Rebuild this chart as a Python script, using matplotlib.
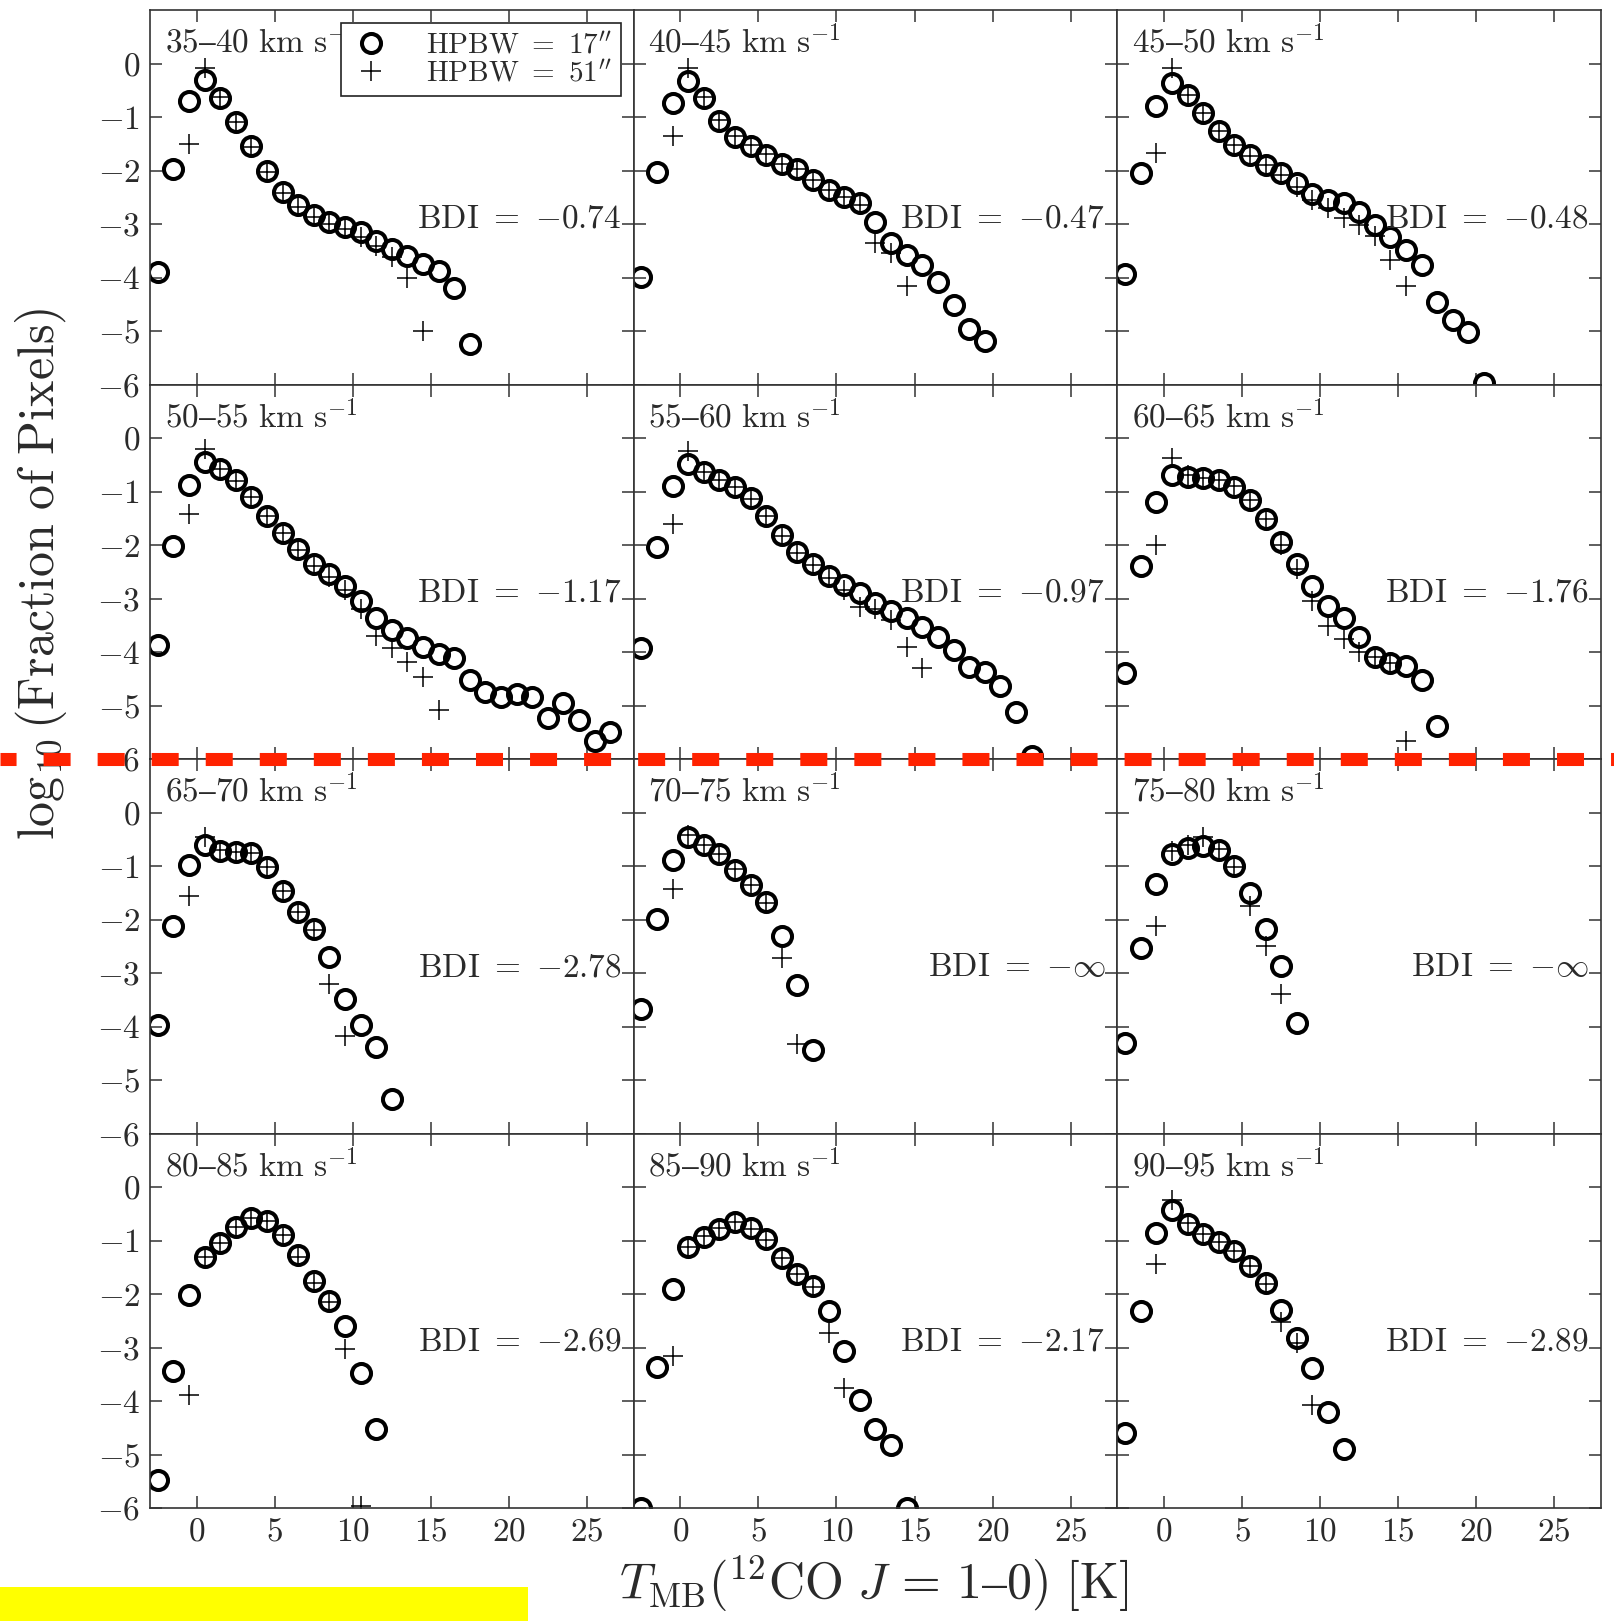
import matplotlib
matplotlib.use("Agg")
import matplotlib.pyplot as plt
import numpy as np
from matplotlib.lines import Line2D
from matplotlib.patches import Rectangle

plt.rcParams['font.family'] = ['cmr10', 'DejaVu Serif']
plt.rcParams['mathtext.fontset'] = 'cm'
plt.rcParams['axes.formatter.use_mathtext'] = True

# velocity ranges (km/s) and BDI of each panel
vel_ranges = ["35–40", "40–45", "45–50", "50–55", "55–60", "60–65",
              "65–70", "70–75", "75–80", "80–85", "85–90", "90–95"]
bdi_labels = ["-0.74", "-0.47", "-0.48", "-1.17", "-0.97", "-1.76",
              "-2.78", r"-\infty", r"-\infty", "-2.69", "-2.17", "-2.89"]

# T_MB bin centres start here, 1 K wide bins
t_first_17 = -2.5
t_first_51 = -0.5
t_bin = 1.0

# log10(fraction of pixels), HPBW = 17"
c35 = [-3.90, -1.98, -0.70, -0.30, -0.64, -1.10, -1.55, -2.00, -2.40, -2.65, -2.83,
       -2.97, -3.06, -3.15, -3.32, -3.46, -3.60, -3.74, -3.87, -4.20, -5.25]
c40 = [-3.99, -2.02, -0.73, -0.33, -0.64, -1.08, -1.38, -1.55, -1.71, -1.88, -1.97,
       -2.18, -2.36, -2.49, -2.61, -2.97, -3.36, -3.58, -3.77, -4.08, -4.51, -4.96, -5.18]
c45 = [-3.93, -2.05, -0.80, -0.36, -0.58, -0.93, -1.27, -1.52, -1.71, -1.89, -2.05,
       -2.24, -2.43, -2.55, -2.61, -2.77, -3.02, -3.24, -3.49, -3.77, -4.46, -4.80,
       -5.02, -5.97]
c50 = [-3.87, -2.01, -0.87, -0.44, -0.58, -0.79, -1.10, -1.45, -1.77, -2.08, -2.36,
       -2.55, -2.77, -3.05, -3.36, -3.58, -3.74, -3.90, -4.03, -4.12, -4.53, -4.75,
       -4.85, -4.78, -4.85, -5.23, -4.96, -5.28, -5.66, -5.50]
c55 = [-3.93, -2.04, -0.89, -0.49, -0.64, -0.79, -0.91, -1.13, -1.45, -1.82, -2.13,
       -2.36, -2.58, -2.74, -2.89, -3.08, -3.24, -3.37, -3.53, -3.72, -3.97, -4.28,
       -4.38, -4.63, -5.13, -5.94]
c60 = [-4.39, -2.39, -1.19, -0.69, -0.72, -0.75, -0.78, -0.91, -1.16, -1.51, -1.94,
       -2.36, -2.77, -3.14, -3.37, -3.72, -4.09, -4.21, -4.26, -4.52, -5.38]
c65 = [-3.98, -2.12, -0.99, -0.60, -0.72, -0.74, -0.76, -1.02, -1.47, -1.86, -2.18,
       -2.70, -3.48, -3.97, -4.38, -5.36]
c70 = [-3.68, -1.99, -0.89, -0.46, -0.60, -0.78, -1.07, -1.36, -1.68, -2.30, -3.22, -4.44]
c75 = [-4.30, -2.53, -1.33, -0.77, -0.67, -0.62, -0.70, -1.00, -1.50, -2.17, -2.87, -3.93]
c80 = [-5.48, -3.44, -2.01, -1.31, -1.04, -0.75, -0.58, -0.63, -0.89, -1.28, -1.75,
       -2.13, -2.59, -3.47, -4.52]
c85 = [-6.00, -3.37, -1.90, -1.13, -0.93, -0.78, -0.66, -0.76, -0.97, -1.33, -1.62,
       -1.85, -2.32, -3.07, -3.98, -4.52, -4.82, -6.00]
c90 = [-4.60, -2.31, -0.86, -0.43, -0.69, -0.88, -1.02, -1.19, -1.47, -1.80, -2.30,
       -2.83, -3.38, -4.20, -4.90]

# log10(fraction of pixels), HPBW = 51"
p35 = [-1.50, -0.08, -0.62, -1.10, -1.56, -2.02, -2.42, -2.68, -2.86, -3.00, -3.10,
       -3.24, -3.42, -3.62, -4.00, -5.00]
p40 = [-1.36, -0.08, -0.62, -1.06, -1.36, -1.53, -1.70, -1.87, -1.97, -2.18, -2.36,
       -2.50, -2.65, -3.36, -3.55, -4.16]
p45 = [-1.68, -0.08, -0.58, -0.93, -1.27, -1.52, -1.72, -1.90, -2.08, -2.30, -2.55,
       -2.70, -2.88, -3.02, -3.22, -3.68, -4.15]
p50 = [-1.42, -0.20, -0.58, -0.80, -1.10, -1.45, -1.78, -2.10, -2.40, -2.60, -2.85,
       -3.20, -3.71, -3.93, -4.18, -4.47, -5.08]
p55 = [-1.60, -0.25, -0.64, -0.79, -0.92, -1.14, -1.46, -1.83, -2.15, -2.38, -2.62,
       -2.85, -3.15, -3.20, -3.40, -3.90, -4.30]
p60 = [-2.00, -0.38, -0.70, -0.74, -0.78, -0.90, -1.16, -1.52, -2.00, -2.45, -3.05,
       -3.52, -3.76, -4.00, -4.10, -4.20, -5.67]
p65 = [-1.56, -0.46, -0.70, -0.74, -0.75, -1.02, -1.47, -1.86, -2.20, -3.20, -4.17]
p70 = [-1.43, -0.42, -0.60, -0.78, -1.06, -1.36, -1.70, -2.72, -4.32]
p75 = [-2.12, -0.72, -0.60, -0.45, -0.68, -1.02, -1.74, -2.49, -3.40]
p80 = [-3.88, -1.30, -1.04, -0.75, -0.58, -0.64, -0.90, -1.30, -1.80, -2.15, -3.03, -5.97]
p85 = [-3.16, -1.12, -0.92, -0.77, -0.66, -0.78, -0.99, -1.33, -1.62, -1.86, -2.72, -3.75]
p90 = [-1.43, -0.25, -0.68, -0.88, -1.02, -1.20, -1.48, -1.82, -2.52, -2.92, -4.08]

hp17 = [c35, c40, c45, c50, c55, c60, c65, c70, c75, c80, c85, c90]
hp51 = [p35, p40, p45, p50, p55, p60, p65, p70, p75, p80, p85, p90]

xticks = [0, 5, 10, 15, 20, 25]
yticks = [-6, -5, -4, -3, -2, -1, 0]

text_col = '#2a2a2a'
W, H = 1614, 1621
fig, axes = plt.subplots(4, 3, sharex=True, sharey=True, figsize=(W / 100, H / 100), dpi=100)
plt.subplots_adjust(left=150 / W, right=1601 / W, top=1 - 10 / H, bottom=1 - 1508 / H,
                    wspace=0, hspace=0)

for i, ax in enumerate(axes.flat):
    y17 = np.array(hp17[i])
    y51 = np.array(hp51[i])
    x17 = t_first_17 + t_bin * np.arange(len(y17))
    x51 = t_first_51 + t_bin * np.arange(len(y51))
    ax.plot(x17, y17, 'o', ms=13.7, mfc='none', mec='black', mew=2.9,
            label=r'$\mathrm{HPBW}\ =\ 17^{\prime\prime}$')
    ax.plot(x51, y51, '+', ms=14, mec='black', mew=1.1,
            label=r'$\mathrm{HPBW}\ =\ 51^{\prime\prime}$')
    ax.set_xlim(-3, 28)
    ax.set_ylim(-6, 1)
    ax.set_xticks(xticks)
    ax.set_yticks(yticks)
    ax.tick_params(direction='in', top=True, right=True, length=8.6, width=1.1,
                   labelsize=24, pad=7, colors='#333333', labelcolor=text_col)
    for s in ax.spines.values():
        s.set_linewidth(1.2)
        s.set_color('#333333')
    ax.text(0.03, 0.885, r'$\mathrm{' + vel_ranges[i] + r'\ km\ s}^{-1}$',
            transform=ax.transAxes, fontsize=24, ha='left', va='baseline', color=text_col)
    ax.text(0.975, 0.42, r'$\mathrm{BDI}\ =\ {' + bdi_labels[i] + '}$', transform=ax.transAxes,
            fontsize=24, ha='right', va='baseline', color=text_col)

leg = axes[0, 0].legend(loc='upper right', fontsize=21, frameon=True, fancybox=False,
                        borderaxespad=0.45, labelspacing=0.05, borderpad=0.3,
                        handletextpad=1.2, handlelength=1.4)
leg.get_frame().set_edgecolor('#222222')
leg.get_frame().set_linewidth(1.2)
leg.get_frame().set_alpha(1)
for t in leg.get_texts():
    t.set_color(text_col)

fig.text(41 / W, 1 - 574 / H, r'$\log_{10}(\mathrm{Fraction\ of\ Pixels})$', rotation=90,
         fontsize=36, ha='center', va='center', color=text_col)
fig.text(874 / W, 1 - 1584 / H, r'$T_{\rm MB}(^{12}{\rm CO}\ J\,=\,1–0)\ [{\rm K}]$',
         fontsize=36, ha='center', va='center', color=text_col)

# red dashed marker line and yellow box laid over the figure
fig.add_artist(Line2D([0, 1], [1 - 759 / H, 1 - 759 / H], transform=fig.transFigure,
                      color='#ff2200', lw=9.4, linestyle=(0.84, (2.07, 2.07)), zorder=10))
fig.add_artist(Rectangle((0, 0), 528 / W, 34 / H, transform=fig.transFigure,
                         facecolor='#ffff00', edgecolor='none', zorder=10))

fig.savefig('out.png', dpi=100)
